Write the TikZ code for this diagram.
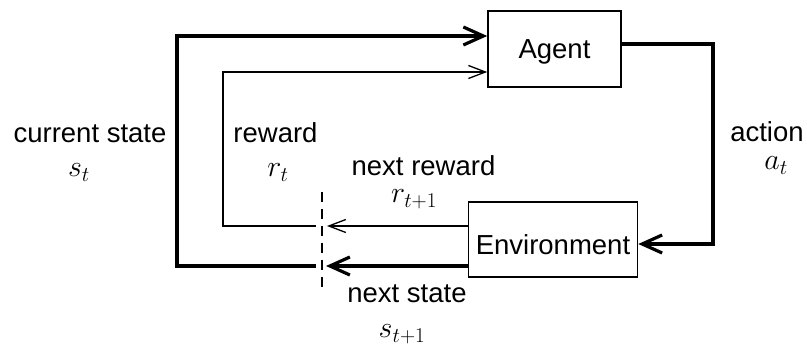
\RequirePackage{fix-cm}
\documentclass[tikz,border=0pt]{standalone}
\usepackage{fontspec}
\setmainfont{Liberation Sans}
\usetikzlibrary{arrows.meta}
\begin{document}
\begin{tikzpicture}[x=1pt, y=-1pt,
  txt/.style={anchor=base, inner sep=0pt, font=\fontsize{27.5}{33}\selectfont},
  mth/.style={anchor=base, inner sep=0pt, font=\fontsize{30}{36}\selectfont},
  block/.style={draw, line width=1.5pt, inner sep=0pt,
                font=\fontsize{27.5}{33}\selectfont},
  heavy/.style={line width=3.2pt},
  light/.style={line width=1.3pt},
  heavyarrow/.style={heavy, -{Straight Barb[length=20pt, width=18pt]}},
  lightarrow/.style={light, -{Straight Barb[length=17pt, width=13pt]}},
  divider/.style={line width=1.5pt, dash pattern=on 10pt off 7pt}
]
\useasboundingbox (0,0) rectangle (807,347);

% agent and environment blocks
\node[block, minimum width=133pt, text height=48pt, text depth=28pt]
  (agent) at (554.5,49) {Agent};
\node[block, minimum width=169pt, text height=53pt, text depth=22pt]
  (env) at (553,239.5) {Environment};

% turning points and the time-step divider
\coordinate (actx) at (713,150);
\coordinate (stx) at (177,150);
\coordinate (rwx) at (223,150);
\coordinate (dtop) at (322,192);
\coordinate (dbot) at (322,294);
\coordinate (rin) at (327,226);
\coordinate (rout) at (316,226);
\coordinate (sin) at (326,266);
\coordinate (sout) at (316,266);

\draw[divider] (dtop) -- (dbot);

% action: agent -> environment
\draw[heavyarrow] ([yshift=5pt]agent.east) -- ([yshift=5pt]agent.east -| actx)
  |- ([yshift=-4.5pt]env.east);

% next reward and next state leave the environment
\draw[lightarrow] ([yshift=13.5pt]env.west) -- (rin);
\draw[heavyarrow] ([yshift=-26.5pt]env.west) -- (sin);

% reward and state fed back to the agent
\draw[lightarrow] (rout) -- (rout -| rwx) |- ([yshift=-23pt]agent.west);
\draw[heavyarrow] (sout) -- (sout -| stx) |- ([yshift=13pt]agent.west);

% labels
\node[txt] (lcs) at (90,143) {current state};
\node[mth] (lst) at (79,177) {$s_t$};
\node[txt] (lrw) at (275.5,143) {reward};
\node[mth] (lrt) at (278,177) {$r_t$};
\node[txt] (lnr) at (423.5,176) {next reward};
\node[mth] (lrt1) at (414,203) {$r_{t+1}$};
\node[txt] (lns) at (407,303) {next state};
\node[mth] (lst1) at (402,338) {$s_{t+1}$};
\node[txt] (lac) at (767,142) {action};
\node[mth] (lat) at (776,170) {$a_t$};
\end{tikzpicture}
\end{document}
